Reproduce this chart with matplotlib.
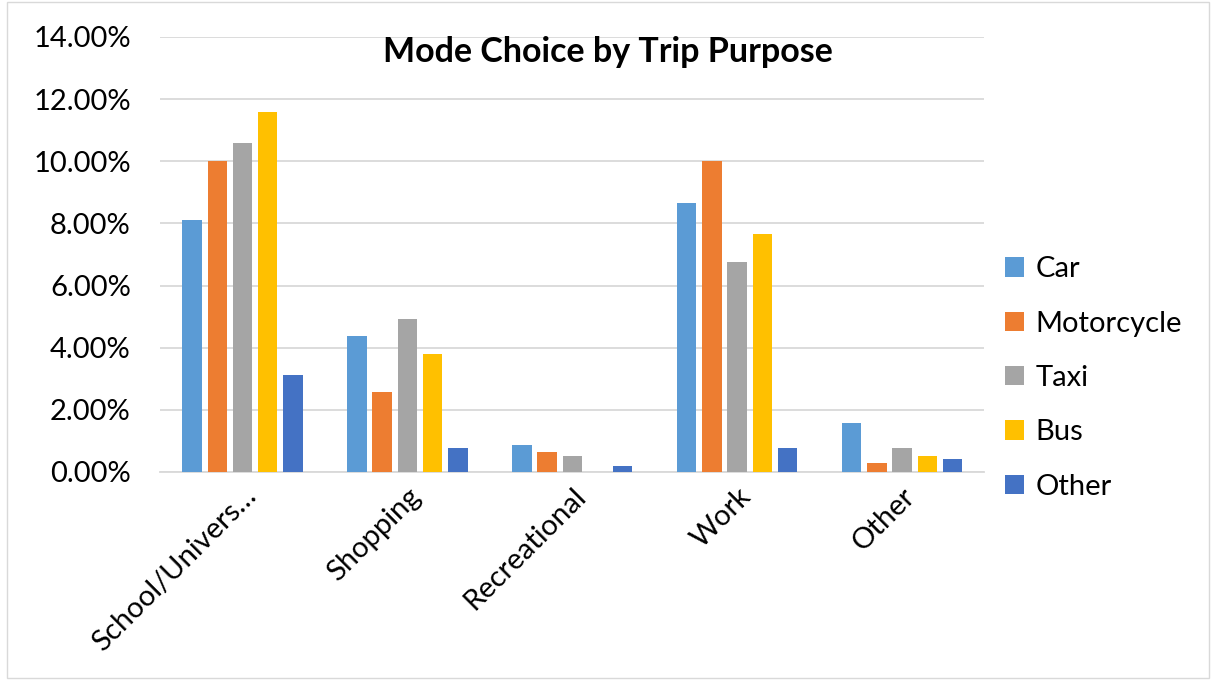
import matplotlib
matplotlib.use("Agg")
from matplotlib import pyplot as plt
from matplotlib.patches import Rectangle
from matplotlib.ticker import FuncFormatter
import numpy as np

purposes = ["School/Univers\u2026", "Shopping", "Recreational", "Work", "Other"]
modes = ["Car", "Motorcycle", "Taxi", "Bus", "Other"]

car = [8.10, 4.36, 0.86, 8.67, 1.56]
motorcycle = [10.01, 2.56, 0.65, 10.01, 0.30]
taxi = [10.58, 4.93, 0.52, 6.76, 0.77]
bus = [11.59, 3.80, 0.0, 7.66, 0.52]
other = [3.12, 0.76, 0.19, 0.77, 0.42]

series = [car, motorcycle, taxi, bus, other]
colors = ["#5b9bd5", "#ed7d31", "#a5a5a5", "#ffc000", "#4472c4"]

plt.rcParams["font.family"] = ["Lato", "DejaVu Sans"]

fig = plt.figure(figsize=(12.16, 6.8), dpi=100)
ax = fig.add_axes([0.1316, 0.306, 0.678, 0.6396])

x = np.arange(len(purposes))
step = 0.153
width = 0.118
for i, (vals, col, name) in enumerate(zip(series, colors, modes)):
    ax.bar(x + (i - 2) * step, vals, width=width, color=col, label=name, zorder=3)

ax.set_xlim(-0.5, 4.5)
ax.set_ylim(0, 14)
ax.set_yticks(np.arange(0, 15, 2))
ax.yaxis.set_major_formatter(FuncFormatter(lambda v, p: "%.2f%%" % v))
ax.grid(axis="y", color="#d9d9d9", linewidth=1.3, zorder=0)
for s in ["top", "right", "left"]:
    ax.spines[s].set_visible(False)
ax.spines["bottom"].set_color("#d9d9d9")
ax.spines["bottom"].set_linewidth(1.3)
ax.tick_params(axis="both", length=0, labelsize=21, colors="black")
ax.tick_params(axis="y", pad=21)
ax.tick_params(axis="x", pad=8)
ax.set_xticks(x)
ax.set_xticklabels(purposes, rotation=45, ha="right", rotation_mode="anchor")

# title is centred on the whole chart, not on the plot area
fig.text(0.5, 0.9235, "Mode Choice by Trip Purpose",
         ha="center", va="center", fontsize=24.5, fontweight="bold")

leg = ax.legend(loc="center left", bbox_to_anchor=(0.993, 0.216), frameon=False,
                fontsize=21, handlelength=0.65, handleheight=0.65, labelspacing=0.97,
                handletextpad=0.4)

fig.patches.append(Rectangle((0.006, 0.003), 0.988, 0.994, transform=fig.transFigure,
                             fill=False, edgecolor="#d9d9d9", linewidth=1))

fig.savefig("out.png", dpi=100)
